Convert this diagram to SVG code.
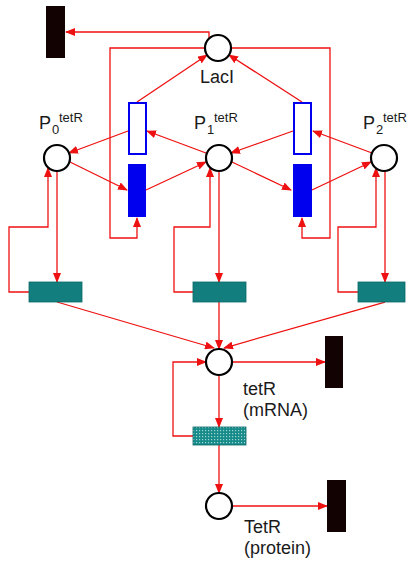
<svg xmlns="http://www.w3.org/2000/svg" width="407" height="563" viewBox="0 0 407 563">
<style>
.e{fill:none;stroke:#ee1111;stroke-width:1.3;marker-end:url(#ah)}
.pl{fill:#fff;stroke:#000;stroke-width:2.2}
.sink{fill:#120202}
.ho{fill:#fff;stroke:#0000ee;stroke-width:2}
.fi{fill:#0000ee}
.tl{fill:#127e7e;stroke:#0c6666;stroke-width:0.8}
.hat{fill:url(#dots);stroke:#0c6666;stroke-width:0.8}
text{font-family:"Liberation Sans",Arial,sans-serif;fill:#1a1a1a}
.lb{font-size:18px}
.sub{font-size:13px}
</style>
<defs>
<marker id="ah" markerUnits="userSpaceOnUse" markerWidth="10" markerHeight="8" refX="9" refY="4" orient="auto">
<path d="M0,0 L10,4 L0,8 z" fill="#ee1111"/>
</marker>
<pattern id="dots" width="3" height="3" patternUnits="userSpaceOnUse">
<rect width="3" height="3" fill="#178a8a"/>
<rect x="1" y="1" width="1.2" height="1.2" fill="#9fd8d0"/>
</pattern>
</defs>
<g id="connectors">
<path class="e" d="M209,38 V32 H66"/>
<path class="e" d="M205,48 H110 V238 H137 V218"/>
<path class="e" d="M231,48 H330 V238 H302 V218"/>
<path class="e" d="M137,102 L207,55"/>
<path class="e" d="M302,102 L229,55"/>
<path class="e" d="M128,131 L69,153"/>
<path class="e" d="M206,153 L147,131"/>
<path class="e" d="M293,131 L231,153"/>
<path class="e" d="M372,153 L313,131"/>
<path class="e" d="M70,162 L127,190"/>
<path class="e" d="M146,190 L206,162"/>
<path class="e" d="M232,162 L291,190"/>
<path class="e" d="M312,190 L371,162"/>
<path class="e" d="M57,171 V282"/>
<path class="e" d="M219,171 V282"/>
<path class="e" d="M385,171 V282"/>
<path class="e" d="M29,292 H9 V227 H48 V168"/>
<path class="e" d="M193,292 H174 V227 H210 V168"/>
<path class="e" d="M358,292 H338 V227 H376 V168"/>
<path class="e" d="M57,302 L214,348"/>
<path class="e" d="M219,302 V349"/>
<path class="e" d="M385,302 L224,348"/>
<path class="e" d="M232,362 H325"/>
<path class="e" d="M193,436 H173 V362 H206"/>
<path class="e" d="M219,375 V427"/>
<path class="e" d="M219,445 V493"/>
<path class="e" d="M232,506 H327"/>
</g>
<g id="laci-sink"><rect class="sink" x="46" y="6" width="19" height="52"/></g>
<g id="laci"><circle class="pl" cx="218" cy="48" r="13"/><text class="lb" x="200" y="83">LacI</text></g>
<g id="t-hollow-left"><rect class="ho" x="129" y="103" width="17" height="51"/></g>
<g id="t-hollow-right"><rect class="ho" x="294" y="103" width="17" height="51"/></g>
<g id="t-filled-left"><rect class="fi" x="128" y="164" width="18" height="53"/></g>
<g id="t-filled-right"><rect class="fi" x="293" y="164" width="19" height="53"/></g>
<g id="p0"><circle class="pl" cx="57" cy="158" r="13"/>
<text class="lb" x="39" y="129">P</text><text class="sub" x="52" y="134">0</text><text class="sub" x="59" y="122">tetR</text></g>
<g id="p1"><circle class="pl" cx="219" cy="158" r="13"/>
<text class="lb" x="194" y="129">P</text><text class="sub" x="207" y="134">1</text><text class="sub" x="214" y="122">tetR</text></g>
<g id="p2"><circle class="pl" cx="384" cy="158" r="13"/>
<text class="lb" x="363" y="129">P</text><text class="sub" x="376" y="134">2</text><text class="sub" x="383" y="122">tetR</text></g>
<g id="tx0"><rect class="tl" x="29" y="282" width="53" height="20"/></g>
<g id="tx1"><rect class="tl" x="193" y="282" width="53" height="20"/></g>
<g id="tx2"><rect class="tl" x="358" y="282" width="47" height="20"/></g>
<g id="mrna"><circle class="pl" cx="219" cy="362" r="13"/>
<text class="lb" x="243" y="395">tetR</text><text class="lb" x="243" y="416">(mRNA)</text></g>
<g id="mrna-sink"><rect class="sink" x="325" y="336" width="18" height="52"/></g>
<g id="translation"><rect class="hat" x="193" y="427" width="53" height="18"/></g>
<g id="protein"><circle class="pl" cx="219" cy="506" r="13"/>
<text class="lb" x="244" y="533">TetR</text><text class="lb" x="244" y="554">(protein)</text></g>
<g id="protein-sink"><rect class="sink" x="327" y="480" width="19" height="52"/></g>
</svg>
